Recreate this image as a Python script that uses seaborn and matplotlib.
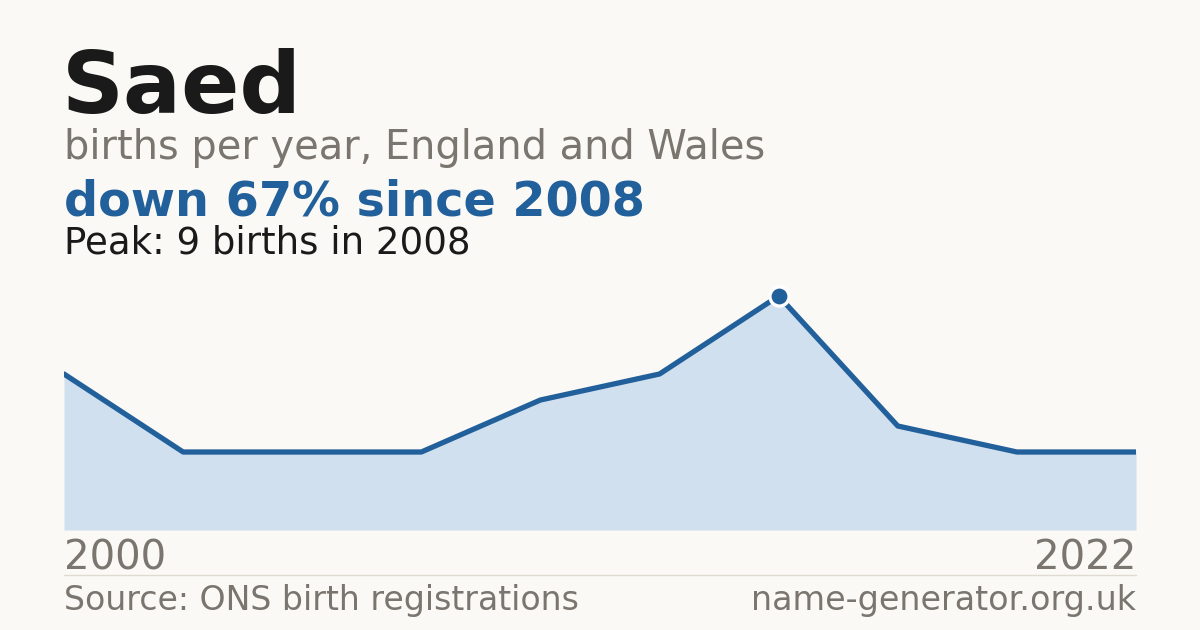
import matplotlib
matplotlib.use("Agg")
import matplotlib.pyplot as plt
import seaborn as sns
import pandas as pd
import numpy as np

# ---- data ----
years = [2000, 2001, 2002, 2003, 2005, 2006, 2008, 2012, 2016, 2022]
births = [6, 3, 3, 3, 5, 6, 9, 4, 3, 3]
name = "Saed"
subtitle = "births per year, England and Wales"
headline = "down 67% since 2008"
peak_text = "Peak: 9 births in 2008"
source_text = "Source: ONS birth registrations"
site_text = "name-generator.org.uk"

BG = "#faf9f5"
LINE = "#21609a"
FILL = "#d0e0ef"
GREY = "#7a756e"
DARK = "#1a1a1a"

sns.set_theme(style="white")
plt.rcParams["font.family"] = ["DejaVu Sans"]

df = pd.DataFrame({"year": years, "births": births})
df["pos"] = np.arange(len(df))

fig = plt.figure(figsize=(12, 6.3), dpi=100, facecolor=BG)
W, H = 1200, 630
ax = fig.add_axes([64 / W, (H - 530) / H, 1072 / W, 260 / H])
ax.set_facecolor(BG)

ax.fill_between(df["pos"], df["births"], 0, color=FILL, linewidth=0, zorder=1)
sns.lineplot(data=df, x="pos", y="births", ax=ax, color=LINE, linewidth=3.8,
             zorder=3, legend=False)
pk = df["births"].idxmax()
ax.scatter([df.loc[pk, "pos"]], [df.loc[pk, "births"]], s=190, color=LINE,
           edgecolor="white", linewidth=2.4, zorder=4)

ax.set_xlim(df["pos"].min(), df["pos"].max())
ax.set_ylim(0, 10)
ax.set_xticks([])
ax.set_yticks([])
ax.set_xlabel("")
ax.set_ylabel("")
for s in ax.spines.values():
    s.set_visible(False)

def fy(py):
    return 1 - py / H

def fx(px):
    return px / W

fig.text(fx(62), fy(113), name, fontsize=62, fontweight="bold", color=DARK, va="baseline")
fig.text(fx(64), fy(159), subtitle, fontsize=28.7, color=GREY, va="baseline")
fig.text(fx(64), fy(215), headline, fontsize=34.4, fontweight="bold", color=LINE, va="baseline")
fig.text(fx(64), fy(253), peak_text, fontsize=26.7, color=DARK, va="baseline")

fig.text(fx(64), fy(570), str(years[0]), fontsize=29, color=GREY, va="baseline")
fig.text(fx(1136), fy(570), str(years[-1]), fontsize=29, color=GREY, va="baseline", ha="right")

fig.add_artist(plt.Line2D([fx(64), fx(1136)], [fy(574.5), fy(574.5)], color="#e0dbd2", linewidth=1))

fig.text(fx(64), fy(610), source_text, fontsize=23.9, color=GREY, va="baseline")
fig.text(fx(1136), fy(610), site_text, fontsize=24, color=GREY, va="baseline", ha="right")

fig.savefig("out.png", dpi=100, facecolor=BG)
